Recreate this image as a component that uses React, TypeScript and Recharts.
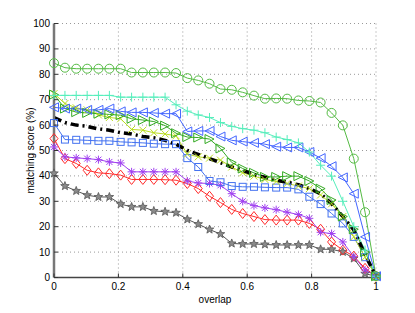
import { LineChart, Line, XAxis, YAxis, CartesianGrid } from 'recharts';

const overlap = [
  0, 0.034, 0.069, 0.103, 0.138, 0.172, 0.207, 0.241, 0.276, 0.31, 0.345, 0.379, 0.414, 0.448, 0.483,
  0.517, 0.552, 0.586, 0.621, 0.655, 0.69, 0.724, 0.759, 0.793, 0.828, 0.862, 0.897, 0.931, 0.966, 1,
];
const xTicks = [0, 0.2, 0.4, 0.6, 0.8, 1];
const yTicks = [0, 10, 20, 30, 40, 50, 60, 70, 80, 90, 100];

const greenCircle = [
  84.4, 82.6, 82.2, 82.2, 82.2, 82.2, 82.2, 80.7, 80.7, 80.7, 80.7, 80.5, 78.5, 77.6, 76.3,
  74.2, 73.9, 72.9, 71.6, 70.4, 70.5, 70.4, 69.7, 69.5, 68.9, 64.8, 59.9, 46.8, 25.7, 0.5,
];
const cyanPlus = [
  71.7, 71.7, 71.7, 71.7, 71.7, 71.7, 71, 71, 71, 71, 71, 68, 65.5, 64, 63,
  61, 59.5, 58.6, 58, 57, 55.3, 54.3, 53, 49.4, 44.2, 39.9, 30, 20, 10.8, 0.5,
];
const blueTriangle = [
  67, 66.5, 66.5, 66, 66, 66.5, 65.4, 65, 65, 64.8, 64.5, 64.5, 57.5, 57.7, 57.7,
  55.5, 54, 53.5, 53, 52.5, 51.5, 51.2, 51.2, 49.4, 47, 43.8, 39.4, 33, 16, 0.5,
];
const greenTriangle = [
  72, 66.5, 65.1, 64.8, 64.5, 64.2, 63.9, 62.5, 62, 61.4, 59.8, 56.8, 55.3, 55.1, 54.5,
  50.8, 45.3, 42.9, 41.2, 39.6, 39.6, 39.9, 39.9, 38, 35, 30.5, 24, 19, 10, 0.5,
];
const yellowCross = [
  72.4, 68.5, 66.8, 66, 64, 63, 62.5, 58.3, 58, 57, 56.5, 55.8, 48.6, 47.5, 47,
  46.2, 43.5, 41.2, 39.9, 38.6, 37.8, 37, 36, 35, 32.5, 29, 24, 16, 8, 0.5,
];
const blackMean = [
  63, 61, 60, 59.5, 58.5, 58, 57, 56.5, 55.5, 55, 54, 52.5, 50, 48.5, 46.8,
  45.2, 43.5, 42.2, 40.5, 39.5, 38.3, 37.5, 36.5, 35, 33, 29, 24, 18.7, 9, 0.5,
];
const blueSquare = [
  60.8, 54.3, 54.2, 54, 53.8, 53.8, 53.4, 53.2, 53, 52.7, 52.5, 52.5, 47, 43.5, 38,
  37.5, 36, 35.7, 35.7, 35.5, 35.4, 35.4, 34.7, 31.8, 28.9, 25.2, 21.3, 16, 8, 0.5,
];
const redDiamond = [
  54.7, 46.8, 44.9, 42.2, 41.2, 40.9, 40.3, 38.6, 38.6, 38.6, 38.5, 38.3, 37, 35, 32,
  29.5, 26.8, 25.2, 24, 22.8, 22.6, 22.6, 22.6, 21.3, 19, 14, 10.8, 8.4, 3.6, 0.5,
];
const purpleAsterisk = [
  51.4, 47.5, 47.1, 46.8, 46.4, 45.5, 45.1, 41.6, 41.6, 41.6, 41.6, 41.6, 38, 37.2, 37,
  36.3, 33, 30, 28.3, 27.4, 26.7, 25.7, 24.8, 23.3, 17.8, 17.3, 14, 8.2, 3, 0.5,
];
const grayStar = [
  41, 36, 34.1, 32.4, 31.7, 31.7, 28.9, 27.8, 27.8, 26.2, 25.9, 25.5, 22.9, 21, 18.9,
  17.1, 13.4, 13.2, 13.2, 13, 12.8, 12.8, 12.8, 12.8, 11.1, 11.1, 10.1, 7.5, 1.5, 0.5,
];

const data = overlap.map((x, i) => ({
  x,
  greenCircle: greenCircle[i],
  cyanPlus: cyanPlus[i],
  blueTriangle: blueTriangle[i],
  greenTriangle: greenTriangle[i],
  yellowCross: yellowCross[i],
  blueSquare: blueSquare[i],
  redDiamond: redDiamond[i],
  purpleAsterisk: purpleAsterisk[i],
  grayStar: grayStar[i],
  blackMean: blackMean[i],
}));

type Kind = 'circle' | 'plus' | 'triLeft' | 'triRight' | 'cross' | 'square' | 'diamond' | 'asterisk' | 'star';

const series: { key: string; color: string; kind: Kind }[] = [
  { key: 'grayStar', color: '#555555', kind: 'star' },
  { key: 'redDiamond', color: '#ff2a2a', kind: 'diamond' },
  { key: 'purpleAsterisk', color: '#a040f0', kind: 'asterisk' },
  { key: 'blueSquare', color: '#4472f0', kind: 'square' },
  { key: 'yellowCross', color: '#bbdd22', kind: 'cross' },
  { key: 'greenTriangle', color: '#33aa22', kind: 'triRight' },
  { key: 'blueTriangle', color: '#4466ff', kind: 'triLeft' },
  { key: 'cyanPlus', color: '#55eebb', kind: 'plus' },
  { key: 'greenCircle', color: '#55bb44', kind: 'circle' },
];

// 5-point star outline around the dot position
const starPoints = (cx: number, cy: number) => {
  const pts: string[] = [];
  for (let k = 0; k < 10; k++) {
    const r = k % 2 === 0 ? 4.5 : 1.9;
    const a = -Math.PI / 2 + (k * Math.PI) / 5;
    pts.push(`${cx + r * Math.cos(a)},${cy + r * Math.sin(a)}`);
  }
  return pts.join(' ');
};

const marker = (kind: Kind, color: string, name: string) => (props: any) => {
  const { cx, cy, index } = props;
  const key = `${name}-${index}`;
  if (cx == null || cy == null) return <g key={key} />;
  const s = { stroke: color, strokeWidth: 1, fill: 'none' };
  switch (kind) {
    case 'circle':
      return <circle key={key} cx={cx} cy={cy} r={4.5} {...s} />;
    case 'plus':
      return (
        <path key={key} d={`M${cx - 4.5},${cy}H${cx + 4.5}M${cx},${cy - 4.5}V${cy + 4.5}`} {...s} />
      );
    case 'cross':
      return (
        <path key={key} d={`M${cx - 3.5},${cy - 3.5}L${cx + 3.5},${cy + 3.5}M${cx - 3.5},${cy + 3.5}L${cx + 3.5},${cy - 3.5}`} {...s} />
      );
    case 'asterisk':
      return (
        <path
          key={key}
          d={`M${cx - 4},${cy}H${cx + 4}M${cx},${cy - 4}V${cy + 4}M${cx - 3},${cy - 3}L${cx + 3},${cy + 3}M${cx - 3},${cy + 3}L${cx + 3},${cy - 3}`}
          {...s}
        />
      );
    case 'triLeft':
      return <polygon key={key} points={`${cx - 4.5},${cy} ${cx + 4.5},${cy - 4.5} ${cx + 4.5},${cy + 4.5}`} {...s} />;
    case 'triRight':
      return <polygon key={key} points={`${cx + 4.5},${cy} ${cx - 4.5},${cy - 4.5} ${cx - 4.5},${cy + 4.5}`} {...s} />;
    case 'square':
      return <rect key={key} x={cx - 3.5} y={cy - 3.5} width={7} height={7} {...s} />;
    case 'diamond':
      return <polygon key={key} points={`${cx},${cy - 5} ${cx + 4},${cy} ${cx},${cy + 5} ${cx - 4},${cy}`} {...s} />;
    case 'star':
      return <polygon key={key} points={starPoints(cx, cy)} fill="#8a8a8a" stroke="#555555" strokeWidth={0.8} />;
  }
  return <g key={key} />;
};

const fmtX = (v: number) => String(Number(v.toFixed(1)));

const BottomTick = (props: any) => {
  const { x, y, payload } = props;
  return (
    <g>
      <line x1={x} x2={x} y1={y - 5} y2={y - 9} stroke="#333" />
      <text x={x} y={y} dy="0.71em" textAnchor="middle" fontSize={10} fill="#000">
        {fmtX(payload.value)}
      </text>
    </g>
  );
};

const LeftTick = (props: any) => {
  const { x, y, payload } = props;
  return (
    <g>
      <line x1={x + 4} x2={x + 8} y1={y} y2={y} stroke="#333" />
      <text x={x} y={y} dy="0.355em" textAnchor="end" fontSize={10} fill="#000">
        {payload.value}
      </text>
    </g>
  );
};

const TopTick = (props: any) => {
  const { x, y } = props;
  return <line x1={x} x2={x} y1={y} y2={y + 4} stroke="#333" />;
};

const RightTick = (props: any) => {
  const { x, y } = props;
  return <line x1={x} x2={x - 4} y1={y} y2={y} stroke="#333" />;
};

export default function App() {
  return (
    <div style={{ position: 'absolute', left: 0, top: 0, fontFamily: '"Liberation Sans", Arial, sans-serif' }}>
      <LineChart width={415} height={313} data={data} margin={{ top: 23.5, right: 39, left: 0, bottom: 0 }}>
        <CartesianGrid stroke="#999" strokeDasharray="1 3" />
        <XAxis
          dataKey="x"
          type="number"
          domain={[0, 1]}
          ticks={xTicks}
          height={35.5}
          tickSize={0}
          tickMargin={5}
          tick={<BottomTick />}
          axisLine={{ stroke: '#444', strokeWidth: 1.5 }}
          label={{ value: 'overlap', position: 'insideBottom', offset: 10, fontSize: 10, fill: '#000' }}
        />
        <XAxis
          xAxisId="top"
          orientation="top"
          dataKey="x"
          type="number"
          domain={[0, 1]}
          ticks={xTicks}
          height={0}
          tickSize={0}
          tickMargin={0}
          tick={<TopTick />}
          axisLine={{ stroke: '#000' }}
        />
        <YAxis
          type="number"
          domain={[0, 100]}
          ticks={yTicks}
          width={54}
          tickSize={0}
          tickMargin={4}
          tick={<LeftTick />}
          axisLine={{ stroke: '#777', strokeWidth: 2.5 }}
          label={{
            value: 'matching score (%)',
            angle: -90,
            position: 'insideLeft',
            offset: 30,
            fontSize: 10,
            fill: '#000',
            style: { textAnchor: 'middle' },
          }}
        />
        <YAxis
          yAxisId="right"
          orientation="right"
          type="number"
          domain={[0, 100]}
          ticks={yTicks}
          width={0}
          tickSize={0}
          tickMargin={0}
          tick={<RightTick />}
          axisLine={{ stroke: '#777', strokeWidth: 2 }}
        />
        {series.map((s) => (
          <Line
            key={s.key}
            type="linear"
            dataKey={s.key}
            stroke={s.color}
            strokeWidth={1}
            dot={marker(s.kind, s.color, s.key)}
            activeDot={false}
            isAnimationActive={false}
          />
        ))}
        <Line
          type="linear"
          dataKey="blackMean"
          stroke="#000"
          strokeWidth={3.5}
          strokeDasharray="8 4 2 4"
          dot={false}
          activeDot={false}
          isAnimationActive={false}
        />
      </LineChart>
    </div>
  );
}
